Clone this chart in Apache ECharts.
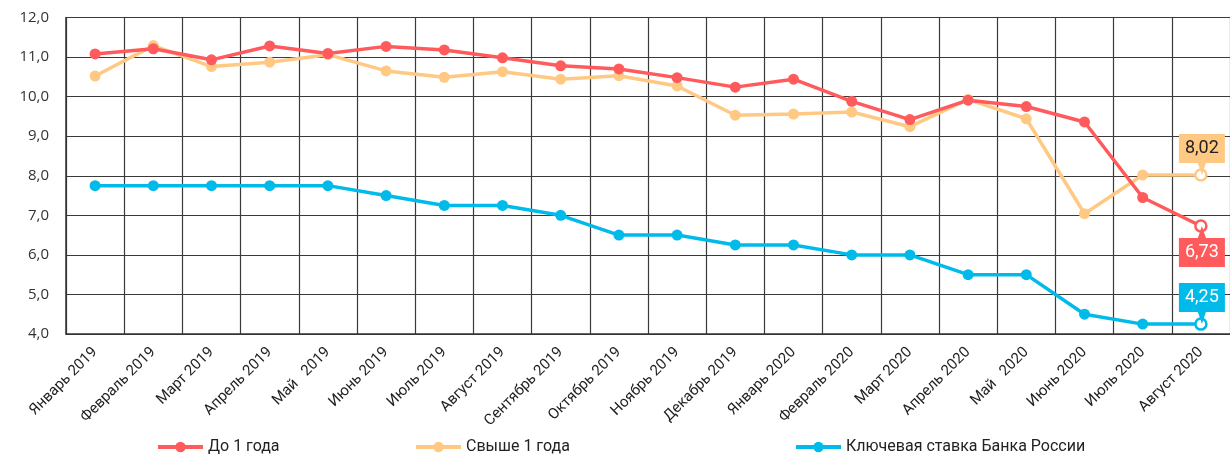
<!DOCTYPE html>
<html><head><meta charset="utf-8">
<script src="https://cdn.jsdelivr.net/npm/echarts@6/dist/echarts.min.js"></script>
<style>html,body{margin:0;padding:0;background:#fff}#c{width:1230px;height:462px}</style>
</head><body><div id="c"></div>
<script>
var categories = ['Январь 2019','Февраль 2019','Март 2019','Апрель 2019','Май   2019','Июнь 2019','Июль 2019','Август 2019','Сентябрь 2019','Октябрь 2019','Ноябрь 2019','Декабрь 2019','Январь 2020','Февраль 2020','Март 2020','Апрель 2020','Май   2020','Июнь 2020','Июль 2020','Август 2020'];
var upTo1Year = [11.08,11.21,10.93,11.28,11.09,11.27,11.18,10.98,10.78,10.70,10.48,10.24,10.44,9.88,9.42,9.91,9.75,9.36,7.45,6.73];
var over1Year = [10.52,11.29,10.76,10.87,11.06,10.65,10.49,10.63,10.44,10.53,10.27,9.53,9.56,9.61,9.24,9.93,9.44,7.04,8.02,8.02];
var keyRate = [7.75,7.75,7.75,7.75,7.75,7.5,7.25,7.25,7.0,6.5,6.5,6.25,6.25,6.0,6.0,5.5,5.5,4.5,4.25,4.25];
var names = ['До 1 года','Свыше 1 года','Ключевая ставка Банка России'];
var yTicks = {min:4, max:12, interval:1};

var colors = ['#FF5A5C','#FFC984','#00BBEA'];
var FONT = '"Liberation Sans Narrow", Roboto, sans-serif';
function fmt(v){return v.toFixed(2).replace('.',',');}
var pathUp = 'path://M0,0 H46 V29 H27 L23,41 L19,29 H0 Z';
var pathDown = 'path://M19,12 L23,0 L27,12 H46 V41 H0 V12 Z';

function mkSeries(idx, data, above, textColor){
  var n = data.length;
  var d = data.map(function(v,i){
    if(i===n-1) return {value:v, itemStyle:{color:'#fff', borderColor:colors[idx], borderWidth:2.5}};
    return v;
  });
  return {
    name: names[idx], type:'line', data:d, symbol:'circle', symbolSize:11,
    lineStyle:{width:3.5, color:colors[idx]},
    itemStyle:{color:colors[idx]},
    markPoint:{
      silent:true,
      data:[{coord:[n-1, data[n-1]], value:fmt(data[n-1])}],
      symbol: above ? pathUp : pathDown,
      symbolSize:[46,41],
      symbolKeepAspect:false,
      symbolOffset:[1, above ? '-50%' : '50%'],
      itemStyle:{color:colors[idx]},
      label:{show:true, position:'inside', offset:[0, above?-6:6], color:textColor, fontSize:18, fontFamily:FONT,
        formatter:function(p){return p.value;}}
    }
  };
}

function mkLegend(i, left){
  return {data:[names[i]], left:left, top:439, padding:0, itemWidth:45, itemHeight:13, itemGap:4,
    lineStyle:{width:4}, textStyle:{fontSize:16, color:'#222', fontFamily:FONT}};
}

var chart = echarts.init(document.getElementById('c'), null, {renderer:'canvas'});
chart.setOption({
  animation:false,
  backgroundColor:'#fff',
  grid:{left:66, top:17.5, bottom:128, width:1166},
  legend:[mkLegend(0,156), mkLegend(1,414), mkLegend(2,794)],
  xAxis:{
    type:'category', data:categories, boundaryGap:true,
    axisLine:{lineStyle:{color:'#333', width:1.5}},
    axisTick:{show:false},
    splitLine:{show:true, lineStyle:{color:'#3a3a3a', width:1.2}},
    axisLabel:{rotate:45, margin:16, fontSize:15, color:'#222', fontFamily:FONT, interval:0}
  },
  yAxis:{
    type:'value', min:yTicks.min, max:yTicks.max, interval:yTicks.interval,
    axisLine:{show:true, lineStyle:{color:'#333', width:1.5}},
    axisTick:{show:false},
    splitLine:{show:true, lineStyle:{color:'#3a3a3a', width:1.2}},
    axisLabel:{margin:17, fontSize:15, color:'#333', fontFamily:'"Open Sans", sans-serif',
      formatter:function(v){return v.toFixed(1).replace('.',',');}}
  },
  series:[
    mkSeries(2, keyRate, true, '#fff'),
    mkSeries(1, over1Year, true, '#222'),
    mkSeries(0, upTo1Year, false, '#fff')
  ]
});
</script></body></html>
